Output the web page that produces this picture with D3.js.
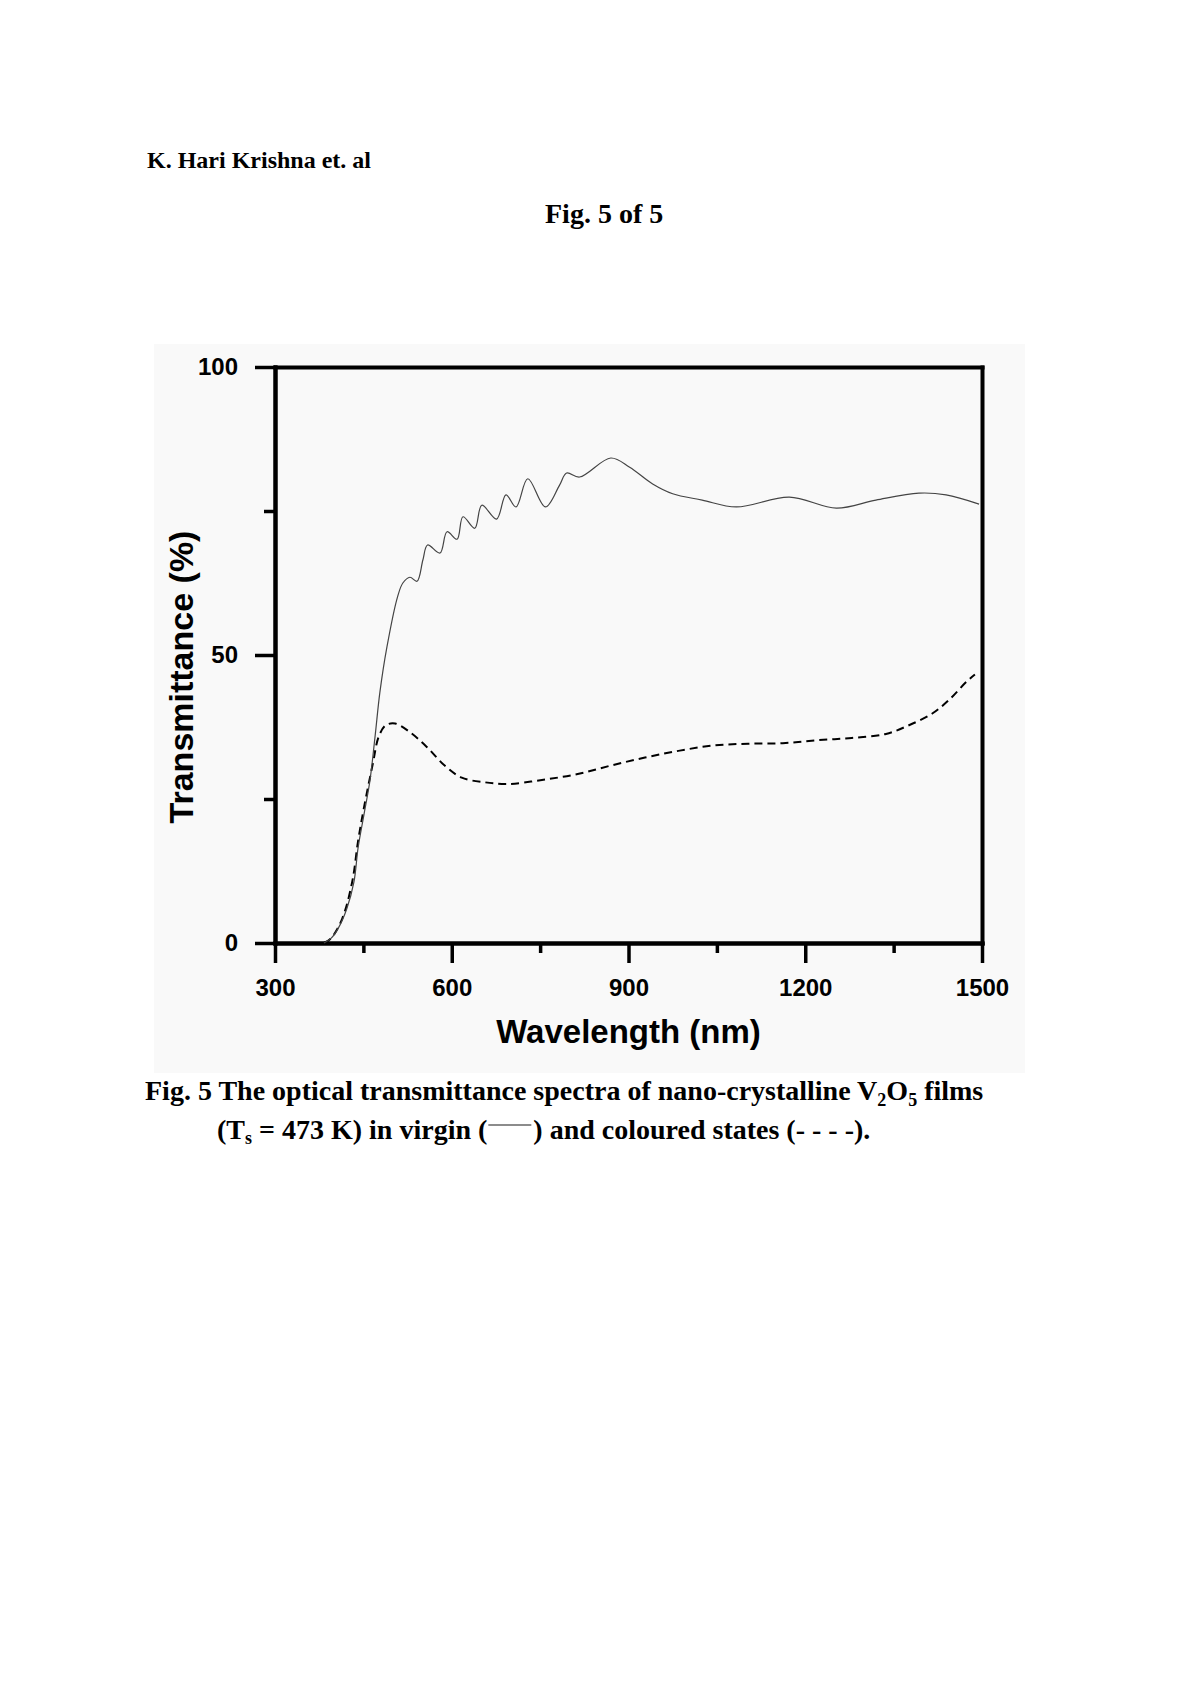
<!DOCTYPE html>
<html>
<head>
<meta charset="utf-8">
<script src="https://cdn.jsdelivr.net/npm/d3@7"></script>
<style>
  body { margin: 0; background: #fff; }
  .serif { font-family: "Liberation Serif", "Times New Roman", serif; font-weight: bold; }
  .sans { font-family: "Liberation Sans", Arial, sans-serif; font-weight: bold; }
</style>
</head>
<body>
<div id="vis"></div>
<script>
var WIDTH = 1200
var HEIGHT = 1698

// virgin film (solid line)
var virginNm = [383, 395, 407, 422, 434, 441, 451, 461, 470, 478, 490, 508, 517, 529, 541, 551, 559, 580, 592, 609,
    619, 639, 651, 676, 692, 709, 729, 759, 783, 795, 817, 870, 902, 941, 975, 1025, 1083, 1173, 1253, 1320,
    1393, 1439, 1495];
var virginT = [0, 0.8, 2.5, 6.0, 10.6, 16.5, 22.3, 28.1, 36.0, 43.5, 51.4, 60.1, 62.5, 63.5, 62.8, 66.5, 69.1, 67.7, 71.4, 70.1,
    74.0, 72.0, 76.0, 73.6, 77.8, 75.7, 80.6, 75.7, 79.5, 81.6, 80.9, 84.2, 82.6, 79.7, 78.0, 76.9, 75.7, 77.4, 75.5, 76.9,
    78.1, 77.8, 76.2];

// coloured film (dashed line)
var colouredNm = [383, 395, 414, 431, 441, 451, 466, 476, 488, 504, 529, 558, 588, 617, 656, 695, 753, 812, 870, 928,
    987, 1045, 1103, 1162, 1220, 1279, 1337, 1376, 1415, 1444, 1474, 1488];
var colouredT = [0, 0.8, 4.2, 10.6, 17.7, 23.5, 31.1, 35.8, 37.8, 38.1, 36.6, 34.0, 30.8, 28.7, 27.9, 27.6, 28.3, 29.3, 30.8, 32.2,
    33.4, 34.3, 34.6, 34.7, 35.2, 35.6, 36.3, 37.8, 39.8, 42.2, 45.4, 46.6];

var xMajor = [300, 600, 900, 1200, 1500];
var xMinor = [450, 750, 1050, 1350];
var yMajor = [0, 50, 100];
var yMinor = [25, 75];

const svg = d3.select('#vis').append('svg')
    .attr('width', WIDTH)
    .attr('height', HEIGHT)

// faint grey panel behind the pasted figure
svg.append('rect')
    .attr('x', 154).attr('y', 344)
    .attr('width', 871).attr('height', 729)
    .attr('fill', '#f9f9f9');

// page texts
svg.append('text').attr('class', 'serif')
    .attr('x', 147).attr('y', 168)
    .attr('font-size', 24)
    .text('K. Hari Krishna et. al');

svg.append('text').attr('class', 'serif')
    .attr('x', 545).attr('y', 223)
    .attr('font-size', 28)
    .text('Fig. 5 of 5');

var x = d3.scaleLinear().domain([300, 1500]).range([275, 982]);
var y = d3.scaleLinear().domain([0, 100]).range([943, 367]);

function styleAxis(g, tickWidth) {
    g.select('.domain').attr('stroke-width', 4).attr('stroke-linecap', 'square');
    g.selectAll('.tick line').attr('stroke-width', tickWidth);
    g.selectAll('.tick text')
        .attr('class', 'sans')
        .attr('font-size', 24)
        .attr('fill', '#000');
}

// minor ticks first
svg.append('g')
    .attr('transform', 'translate(0,' + y(0) + ')')
    .call(d3.axisBottom(x).tickValues(xMinor).tickSize(10).tickSizeOuter(0).tickFormat(''))
    .call(g => styleAxis(g, 3.5));

svg.append('g')
    .attr('transform', 'translate(' + x(300) + ',0)')
    .call(d3.axisLeft(y).tickValues(yMinor).tickSize(11).tickSizeOuter(0).tickFormat(''))
    .call(g => styleAxis(g, 3.5));

// major ticks with labels
svg.append('g')
    .attr('transform', 'translate(0,' + y(0) + ')')
    .call(d3.axisBottom(x).tickValues(xMajor).tickSize(20).tickPadding(16).tickSizeOuter(0).tickFormat(d3.format('d')))
    .call(g => styleAxis(g, 3.5));

svg.append('g')
    .attr('transform', 'translate(' + x(300) + ',0)')
    .call(d3.axisLeft(y).tickValues(yMajor).tickSize(20).tickPadding(17).tickSizeOuter(0).tickFormat(d3.format('d')))
    .call(g => styleAxis(g, 3.5));

// top and right frame
svg.append('g')
    .attr('transform', 'translate(0,' + y(100) + ')')
    .call(d3.axisTop(x).tickValues([]).tickSizeOuter(0))
    .call(g => styleAxis(g, 3.5));

svg.append('g')
    .attr('transform', 'translate(' + x(1500) + ',0)')
    .call(d3.axisRight(y).tickValues([]).tickSizeOuter(0))
    .call(g => styleAxis(g, 3.5));

// axis titles
svg.append('text').attr('class', 'sans')
    .attr('x', (x(300) + x(1500)) / 2).attr('y', 1043)
    .attr('text-anchor', 'middle')
    .attr('font-size', 33)
    .text('Wavelength (nm)');

svg.append('text').attr('class', 'sans')
    .attr('transform', 'translate(193,677) rotate(-90)')
    .attr('text-anchor', 'middle')
    .attr('font-size', 34)
    .text('Transmittance (%)');

// curves
var line = d3.line()
    .x(d => x(d[0]))
    .y(d => y(d[1]))
    .curve(d3.curveCatmullRom.alpha(0.5));

svg.append('path')
    .datum(colouredNm.map((v, i) => [v, colouredT[i]]))
    .attr('d', line)
    .attr('fill', 'none')
    .attr('stroke', '#000')
    .attr('stroke-width', 2)
    .attr('stroke-dasharray', '8,5');

svg.append('path')
    .datum(virginNm.map((v, i) => [v, virginT[i]]))
    .attr('d', line)
    .attr('fill', 'none')
    .attr('stroke', '#444')
    .attr('stroke-width', 1.2);

// caption
var cap1 = svg.append('text').attr('class', 'serif')
    .attr('x', 145).attr('y', 1100)
    .attr('font-size', 28);
cap1.append('tspan').text('Fig. 5 The optical transmittance spectra of nano-crystalline V');
cap1.append('tspan').attr('font-size', 18).attr('dy', 6).text('2');
cap1.append('tspan').attr('dy', -6).text('O');
cap1.append('tspan').attr('font-size', 18).attr('dy', 6).text('5');
cap1.append('tspan').attr('dy', -6).text(' films');

var cap2a = svg.append('text').attr('class', 'serif')
    .attr('x', 217).attr('y', 1139)
    .attr('font-size', 28);
cap2a.append('tspan').text('(T');
cap2a.append('tspan').attr('font-size', 18).attr('dy', 5).text('s');
cap2a.append('tspan').attr('dy', -5).text(' = 473 K) in virgin (');

var endA = 217 + cap2a.node().getComputedTextLength();
svg.append('line')
    .attr('x1', endA + 1).attr('x2', endA + 44)
    .attr('y1', 1125).attr('y2', 1125)
    .attr('stroke', '#666').attr('stroke-width', 1.5);

svg.append('text').attr('class', 'serif')
    .attr('x', endA + 46).attr('y', 1139)
    .attr('font-size', 28)
    .text(') and coloured states (- - - -).');
</script>
</body>
</html>
